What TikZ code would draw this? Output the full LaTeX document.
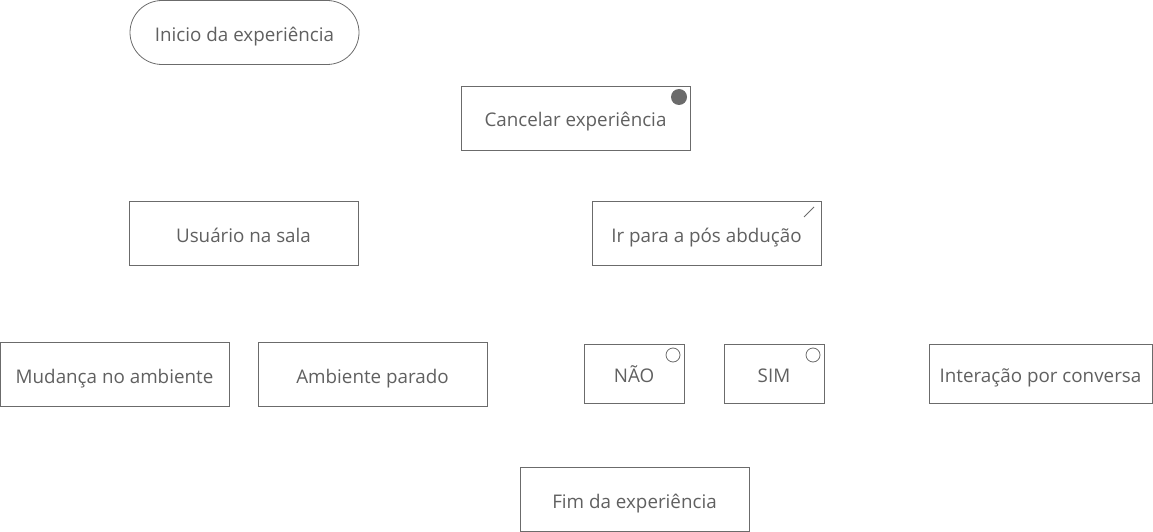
\documentclass[tikz,border=0pt]{standalone}
\usepackage{fontspec}
\setmainfont{Open Sans}
\definecolor{linegray}{HTML}{6B6B6B}
\definecolor{textgray}{HTML}{606060}
\tikzset{
  box/.style={draw=linegray, line width=0.8pt, text=textgray, minimum width=229pt, minimum height=64pt,
    inner sep=0pt, text height=20pt, text depth=2pt},
  smallbox/.style={box, minimum width=100pt, minimum height=59pt},
  startbox/.style={box, rounded corners=32pt},
  mark dot/.style={fill=linegray, draw=none},
  mark ring/.style={draw=linegray, line width=0.8pt, fill=white}
}
\begin{document}
\begin{tikzpicture}[x=1pt, y=-1pt, font=\fontsize{18.8}{22}\selectfont]
\useasboundingbox (0,0) rectangle (1153,532);
\node [startbox] (inicio) at (244.5,32.5) {Inicio da experiência};
\node [box] (cancelar) at (575.5,118) {Cancelar experiência};
\node [box] (usuario) at (243.5,233) {Usuário na sala};
\node [box] (posabd) at (706.5,233) {Ir para a pós abdução};
\node [box] (mudanca) at (114.5,374) {Mudança no ambiente};
\node [box] (parado) at (372.5,374) {Ambiente parado};
\node [smallbox] (nao) at (634,373.5) {NÃO};
\node [smallbox] (sim) at (774,373.5) {SIM};
\node [box, minimum width=223pt, minimum height=59pt] (conversa) at (1040.5,373.5) {Interação por conversa};
\node [box] (fim) at (634.5,499) {Fim da experiência};
% corner marks
\fill [mark dot] (679,97) circle (8pt);
\draw [linegray, line width=0.8pt] (804,217) -- (814,207);
\draw [mark ring] (673,355) circle (7pt);
\draw [mark ring] (813,355) circle (7pt);
\end{tikzpicture}
\end{document}
